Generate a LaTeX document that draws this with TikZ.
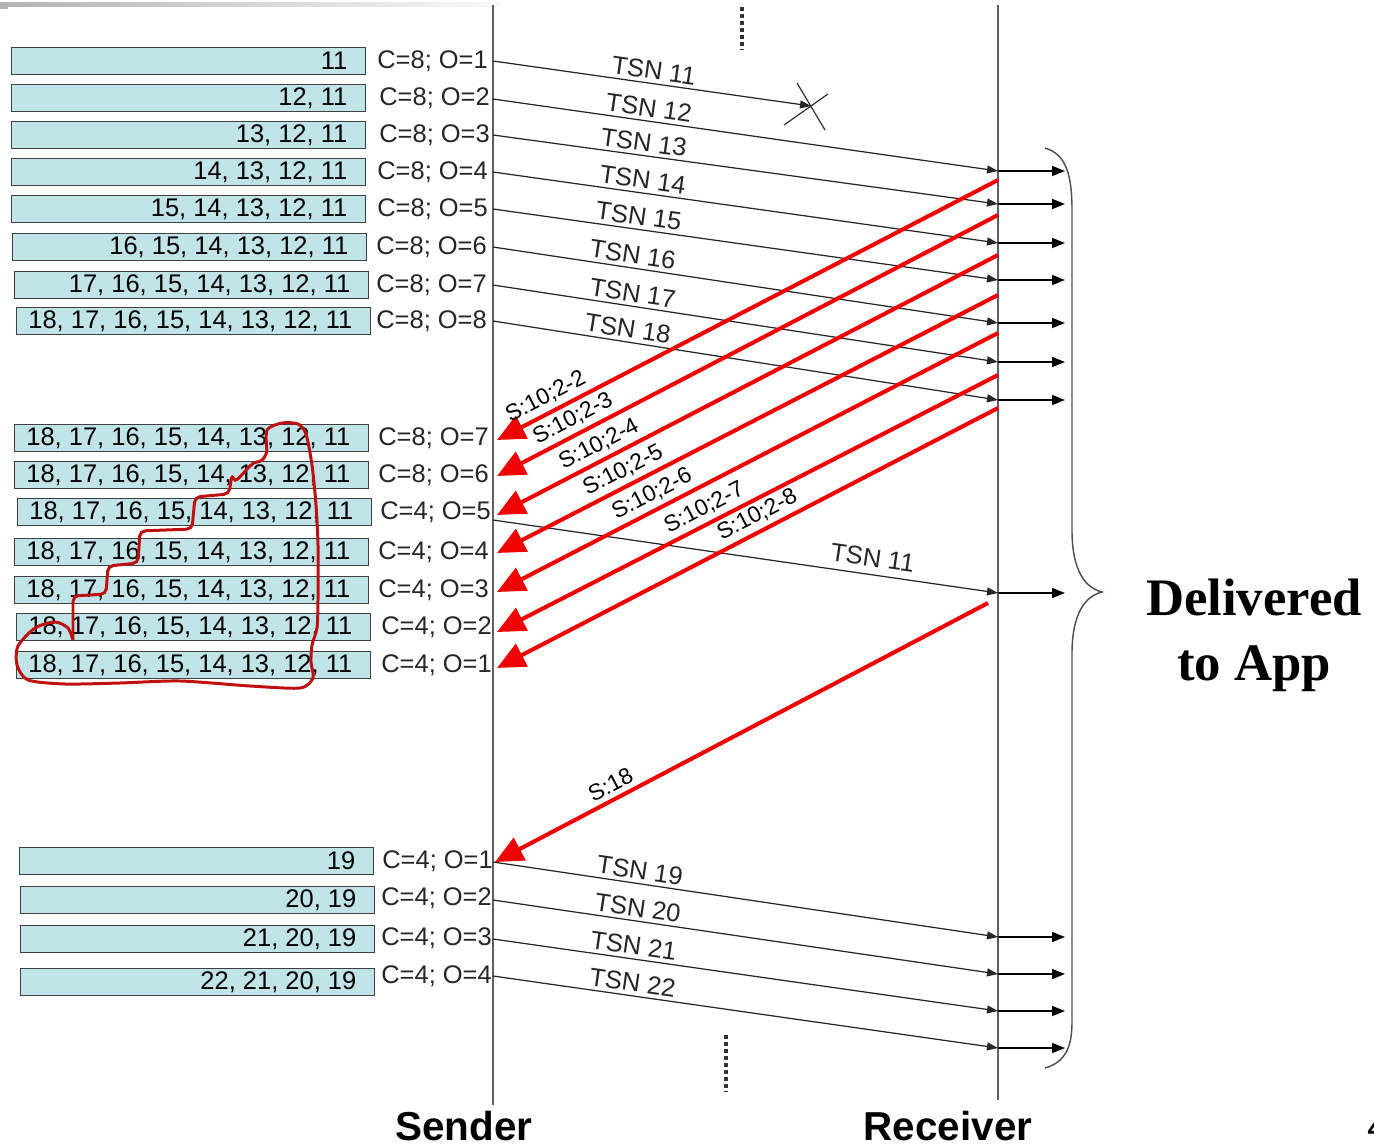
\documentclass[tikz,border=0pt]{standalone}
\usepackage{fontspec}
\setmainfont{Liberation Sans}
\newfontfamily\appfont{Liberation Serif}
\usetikzlibrary{arrows.meta,positioning}
\definecolor{bufblue}{RGB}{193,228,233}
\definecolor{nackred}{RGB}{240,0,0}
\definecolor{penred}{RGB}{190,16,16}
\newcommand{\tsnq}[1]{\makebox[7.08cm][r]{#1\hspace{0.36cm}}}

\begin{document}
\begin{tikzpicture}[x=0.02cm, y=-0.02cm, buf/.style={draw=black!75, fill=bufblue, anchor=west, inner sep=0pt, minimum height=0.54cm, font=\fontsize{14.5}{17}\selectfont}, cnt/.style={anchor=west, inner sep=0pt, font=\fontsize{14.5}{17}\selectfont, text=black!85}, life/.style={gray!75!black, line width=1.1pt}, msg/.style={-{Triangle[length=0.22cm,width=0.16cm]}, black!85, line width=0.7pt}, tsn/.style={font=\fontsize{14.5}{17}\selectfont, sloped, above, inner sep=2pt}, nack/.style={-{Triangle[length=0.56cm,width=0.5cm]}, nackred, line width=2.3pt}, sack/.style={font=\fontsize{13}{15}\selectfont, text=black, sloped, above, inner sep=2.5pt}, deliv/.style={-{Triangle[length=0.26cm,width=0.2cm]}, black, line width=0.9pt}, dots/.style={line width=2.2pt, dash pattern=on 2pt off 2pt, black!80}, who/.style={font=\fontsize{23}{26}\selectfont\bfseries, anchor=base, inner sep=0pt}]
\fill[white] (0,0) rectangle (1374,1146); \useasboundingbox (0,0) rectangle (1374,1146);
\shade[left color=gray!60, right color=gray!5] (0,2) rectangle (500,6); \fill[gray!60] (0,2) rectangle (8,9);
% lifelines
\coordinate (snd top) at (493,5); \coordinate (snd bot) at (493,1105); \coordinate (rcv top) at (998,5); \coordinate (rcv bot) at (998,1100);
\draw[life] (snd top)--(snd bot); \draw[life] (rcv top)--(rcv bot);
\draw[dots] (742,7)--(742,50); \draw[dots] (726,1035)--(726,1092);
% send buffer, first round
\node[buf] (q1) at (11,61) {\tsnq{11}}; \node[cnt] (c1) at (377,61) {C=8; O=1};
\node[buf] (q2) at (11,98) {\tsnq{12, 11}}; \node[cnt] (c2) at (379,98) {C=8; O=2};
\node[buf] (q3) at (11,135) {\tsnq{13, 12, 11}}; \node[cnt] (c3) at (379,135) {C=8; O=3};
\node[buf] (q4) at (11,172) {\tsnq{14, 13, 12, 11}}; \node[cnt] (c4) at (377,172) {C=8; O=4};
\node[buf] (q5) at (11,209) {\tsnq{15, 14, 13, 12, 11}}; \node[cnt] (c5) at (377,209) {C=8; O=5};
\node[buf] (q6) at (12,247) {\tsnq{16, 15, 14, 13, 12, 11}}; \node[cnt] (c6) at (376,247) {C=8; O=6};
\node[buf] (q7) at (14,285) {\tsnq{17, 16, 15, 14, 13, 12, 11}}; \node[cnt] (c7) at (376,285) {C=8; O=7};
\node[buf] (q8) at (16,321) {\tsnq{18, 17, 16, 15, 14, 13, 12, 11}}; \node[cnt] (c8) at (376,321) {C=8; O=8};
% send buffer while SACKs come back
\node[buf] (w7) at (14,438) {\tsnq{18, 17, 16, 15, 14, 13, 12, 11}}; \node[cnt] (v7) at (378,438) {C=8; O=7};
\node[buf] (w6) at (14,475) {\tsnq{18, 17, 16, 15, 14, 13, 12, 11}}; \node[cnt] (v6) at (378,475) {C=8; O=6};
\node[buf] (w5) at (17,512) {\tsnq{18, 17, 16, 15, 14, 13, 12, 11}}; \node[cnt] (v5) at (380,512) {C=4; O=5};
\node[buf] (w4) at (14,552) {\tsnq{18, 17, 16, 15, 14, 13, 12, 11}}; \node[cnt] (v4) at (378,552) {C=4; O=4};
\node[buf] (w3) at (14,590) {\tsnq{18, 17, 16, 15, 14, 13, 12, 11}}; \node[cnt] (v3) at (378,590) {C=4; O=3};
\node[buf] (w2) at (16,627) {\tsnq{18, 17, 16, 15, 14, 13, 12, 11}}; \node[cnt] (v2) at (381,627) {C=4; O=2};
\node[buf] (w1) at (16,665) {\tsnq{18, 17, 16, 15, 14, 13, 12, 11}}; \node[cnt] (v1) at (381,665) {C=4; O=1};
% send buffer, second round
\node[buf] (z1) at (19,861) {\tsnq{19}}; \node[cnt] (y1) at (382,861) {C=4; O=1};
\node[buf] (z2) at (20,900) {\tsnq{20, 19}}; \node[cnt] (y2) at (381,898) {C=4; O=2};
\node[buf] (z3) at (20,939) {\tsnq{21, 20, 19}}; \node[cnt] (y3) at (381,938) {C=4; O=3};
\node[buf] (z4) at (20,982) {\tsnq{22, 21, 20, 19}}; \node[cnt] (y4) at (381,976) {C=4; O=4};
% hand drawn mark round the buffered part
\draw[penred, line width=1.7pt, line join=round] plot[smooth, tension=0.45] coordinates {(267,452) (267,430) (282,423) (298,424) (306,434) (312,465) (316,505) (318,545) (318,600) (317,628) (312,645) (311,662) (313,678) (300,688) (250,686) (180,681) (120,683) (65,684) (28,680) (17,665) (18,646) (35,628) (55,622) (68,628) (73,640)};
\draw[penred, line width=1.7pt, rounded corners=3pt] (73,640)--(73,596)--(106,594)--(108,566)--(138,563)--(140,531)--(192,529)--(195,497)--(229,494)--(232,474) to[out=-70,in=180] (262,462)--(267,452);
% first transmissions
\coordinate (s1) at (493,61); \coordinate (lost) at (811,106);
\coordinate (s2) at (493,99); \coordinate (r2) at (998,171); \coordinate (d2) at (1065,171);
\coordinate (s3) at (493,135); \coordinate (r3) at (998,204); \coordinate (d3) at (1065,204);
\coordinate (s4) at (493,172); \coordinate (r4) at (998,243); \coordinate (d4) at (1065,243);
\coordinate (s5) at (493,209); \coordinate (r5) at (998,280); \coordinate (d5) at (1065,280);
\coordinate (s6) at (493,247); \coordinate (r6) at (998,323); \coordinate (d6) at (1065,323);
\coordinate (s7) at (493,285); \coordinate (r7) at (998,362); \coordinate (d7) at (1065,362);
\coordinate (s8) at (493,321); \coordinate (r8) at (998,400); \coordinate (d8) at (1065,400);
\draw[msg] (s1)--node[tsn, pos=0.5] {TSN 11} (lost);
\draw[black!80, line width=0.7pt] (797,83)--(825,130) (784,125)--(828,94);
\draw[msg] (s2)--node[tsn, pos=0.305] {TSN 12} (r2); \draw[msg] (s3)--node[tsn, pos=0.295] {TSN 13} (r3);
\draw[msg] (s4)--node[tsn, pos=0.293] {TSN 14} (r4); \draw[msg] (s5)--node[tsn, pos=0.285] {TSN 15} (r5);
\draw[msg] (s6)--node[tsn, pos=0.273] {TSN 16} (r6); \draw[msg] (s7)--node[tsn, pos=0.273] {TSN 17} (r7);
\draw[msg] (s8)--node[tsn, pos=0.263] {TSN 18} (r8);
% retransmission of 11
\coordinate (t11s) at (493,520); \coordinate (t11r) at (998,593); \coordinate (t11d) at (1065,593);
\draw[msg] (t11s)--node[tsn, pos=0.747, above=2pt] {TSN 11} (t11r);
% second round
\coordinate (e1) at (493,862); \coordinate (f1) at (998,937); \coordinate (g1) at (1065,937);
\coordinate (e2) at (493,900); \coordinate (f2) at (998,974); \coordinate (g2) at (1065,974);
\coordinate (e3) at (493,939); \coordinate (f3) at (998,1011); \coordinate (g3) at (1065,1011);
\coordinate (e4) at (493,976); \coordinate (f4) at (998,1048); \coordinate (g4) at (1065,1048);
\draw[msg] (e1)--node[tsn, pos=0.287] {TSN 19} (f1); \draw[msg] (e2)--node[tsn, pos=0.283] {TSN 20} (f2);
\draw[msg] (e3)--node[tsn, pos=0.275] {TSN 21} (f3); \draw[msg] (e4)--node[tsn, pos=0.273] {TSN 22} (f4);
% handed to the application
\draw[deliv] (r2)--(d2); \draw[deliv] (r3)--(d3); \draw[deliv] (r4)--(d4); \draw[deliv] (r5)--(d5);
\draw[deliv] (r6)--(d6); \draw[deliv] (r7)--(d7); \draw[deliv] (r8)--(d8); \draw[deliv] (t11r)--(t11d);
\draw[deliv] (f1)--(g1); \draw[deliv] (f2)--(g2); \draw[deliv] (f3)--(g3); \draw[deliv] (f4)--(g4);
% SACKs
\coordinate (k1) at (998,180); \coordinate (j1) at (497,440); \coordinate (k2) at (998,215); \coordinate (j2) at (497,476);
\coordinate (k3) at (998,255); \coordinate (j3) at (497,515); \coordinate (k4) at (998,295); \coordinate (j4) at (497,553);
\coordinate (k5) at (998,333); \coordinate (j5) at (497,592); \coordinate (k6) at (998,375); \coordinate (j6) at (497,632);
\coordinate (k7) at (998,408); \coordinate (j7) at (497,668); \coordinate (k18) at (988,603); \coordinate (j18) at (495,862);
\draw[nack] (k1)--node[sack, pos=0.888] {S:10;2-2} (j1); \draw[nack] (k2)--node[sack, pos=0.834] {S:10;2-3} (j2);
\draw[nack] (k3)--node[sack, pos=0.782] {S:10;2-4} (j3); \draw[nack] (k4)--node[sack, pos=0.734] {S:10;2-5} (j4);
\draw[nack] (k5)--node[sack, pos=0.676] {S:10;2-6} (j5); \draw[nack] (k6)--node[sack, pos=0.572] {S:10;2-7} (j6);
\draw[nack] (k7)--node[sack, pos=0.466] {S:10;2-8} (j7); \draw[nack] (k18)--node[sack, pos=0.752] {S:18} (j18);
% brace and captions
\draw[gray!60!black, line width=0.8pt] (1045,148) .. controls (1066,154) and (1072,175) .. (1072,210) -- (1072,530) .. controls (1072,572) and (1086,588) .. (1102,592) .. controls (1086,596) and (1072,612) .. (1072,654) -- (1072,1022) .. controls (1072,1046) and (1066,1062) .. (1045,1068);
\node[font=\appfont\bfseries\fontsize{30}{37}\selectfont, align=center] (app) at (1254,635) {Delivered\\to App};
\node[who] (sender) at (464,1140) {Sender}; \node[who] (receiver) at (948,1140) {Receiver};
\node[font=\fontsize{23}{26}\selectfont, anchor=base west, inner sep=0pt] (page) at (1367,1140) {4};
\end{tikzpicture}
\end{document}
